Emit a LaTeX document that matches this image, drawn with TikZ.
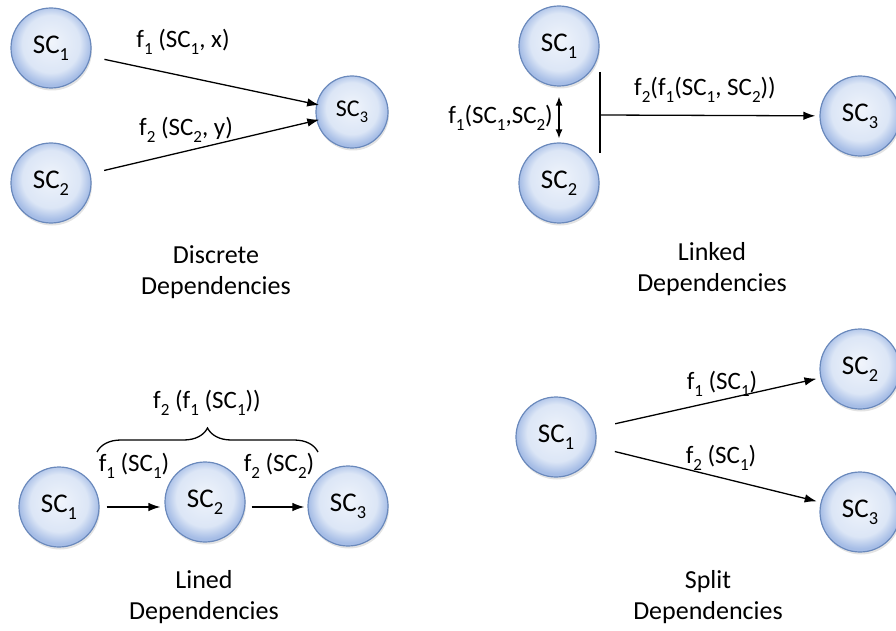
\documentclass[tikz,border=0pt]{standalone}
\usepackage{fontspec}
\usepackage{graphicx}
\setmainfont{Carlito}
\usetikzlibrary{arrows.meta,positioning,decorations.pathreplacing,shadows}
\newcommand{\lo}[1]{\raisebox{-0.27em}{\scalebox{0.68}{#1}}}
\definecolor{ballrim}{HTML}{6A89BC}
\definecolor{ballmid}{HTML}{DCE6F6}
\definecolor{balledge}{HTML}{A6BDE6}
\pgfdeclareradialshading{ballshade}{\pgfpoint{0bp}{4bp}}{color(0bp)=(white!60!ballmid); color(8bp)=(white!30!ballmid); color(18bp)=(ballmid); color(25bp)=(balledge); color(50bp)=(balledge)}

\begin{document}
\begin{tikzpicture}[x=1pt, y=-1pt,
    ball/.style={circle, draw=ballrim, line width=1.2pt, shading=ballshade, minimum size=80pt, inner sep=0pt,
      drop shadow={opacity=0.22, shadow xshift=1pt, shadow yshift=-2.5pt}, font=\fontsize{27}{30}\selectfont},
    lbl/.style={font=\fontsize{25}{28}\selectfont, inner sep=1pt},
    heading/.style={font=\fontsize{26}{31}\selectfont, align=center},
    arr/.style={-{Latex[length=12pt, width=8.5pt]}, line width=1.3pt}]
  \useasboundingbox (0,0) rectangle (896,631);

  % discrete
  \node[ball] (d1) at (51,48) {SC\lo1};
  \node[ball] (d2) at (51,183) {SC\lo2};
  \node[ball, minimum size=72pt, font=\fontsize{24}{28}\selectfont] (d3) at (352,112) {SC\lo3};
  \draw[arr, shorten <=14pt, shorten >=-3pt] (d1) -- (d3);
  \draw[arr, shorten <=14pt, shorten >=-3pt] (d2) -- (d3);
  \node[lbl] (d13) at (183,42) {f\lo1 (SC\lo1, x)};
  \node[lbl] (d23) at (186,130) {f\lo2 (SC\lo2, y)};
  \node[heading] (dcap) at (216,272) {Discrete\\Dependencies};

  % linked
  \node[ball] (l1) at (559,46) {SC\lo1};
  \node[ball] (l2) at (559,183) {SC\lo2};
  \node[ball] (l3) at (860,116) {SC\lo3};
  \coordinate (bartop) at (600,72);
  \coordinate (barbot) at (600,153);
  \coordinate (barmid) at (600,115);
  \draw[line width=1.3pt] (bartop) -- (barbot);
  \draw[arr, shorten >=4pt] (barmid) -- (l3);
  \draw[{Latex[length=9pt, width=7pt]}-{Latex[length=9pt, width=7pt]}, line width=1.3pt, shorten <=10pt, shorten >=4pt, xshift=3pt] (l1.south) -- (l2.north);
  \node[lbl, anchor=east] (l12) at (554,118) {f\lo1(SC\lo1,SC\lo2)};
  \node[lbl] (l123) at (705,90) {f\lo2(f\lo1(SC\lo1, SC\lo2))};
  \node[heading] (lcap) at (712,269) {Linked\\Dependencies};

  % lined
  \node[ball] (n1) at (59,507) {SC\lo1};
  \node[ball] (n2) at (205,502) {SC\lo2};
  \node[ball] (n3) at (348,506) {SC\lo3};
  \draw[arr, shorten <=7pt, shorten >=4pt] (n1.east) -- (n1.east -| n2.west);
  \draw[arr, shorten <=6pt, shorten >=3pt] (n2.east |- n1.east) -- (n1.east -| n3.west);
  \coordinate (braceleft) at (97,452);
  \coordinate (braceright) at (318,452);
  \draw[line width=1.3pt, decorate, decoration={brace, amplitude=24pt}] (braceleft) -- (braceright);
  \node[lbl] (n12) at (134,466) {f\lo1 (SC\lo1)};
  \node[lbl] (n23) at (279,466) {f\lo2 (SC\lo2)};
  \node[lbl] (n123) at (207,403) {f\lo2 (f\lo1 (SC\lo1))};
  \node[heading] (ncap) at (204,597) {Lined\\Dependencies};

  % split
  \node[ball] (s1) at (556,437) {SC\lo1};
  \node[ball] (s2) at (860,369) {SC\lo2};
  \node[ball] (s3) at (860,512) {SC\lo3};
  \draw[arr, shorten <=20pt, shorten >=4pt] (s1) -- (s2);
  \draw[arr, shorten <=20pt, shorten >=4pt] (s1) -- (s3);
  \node[lbl] (s12) at (722,384) {f\lo1 (SC\lo1)};
  \node[lbl] (s13) at (721,458) {f\lo2 (SC\lo1)};
  \node[heading] (scap) at (708,597) {Split\\Dependencies};
\end{tikzpicture}
\end{document}
